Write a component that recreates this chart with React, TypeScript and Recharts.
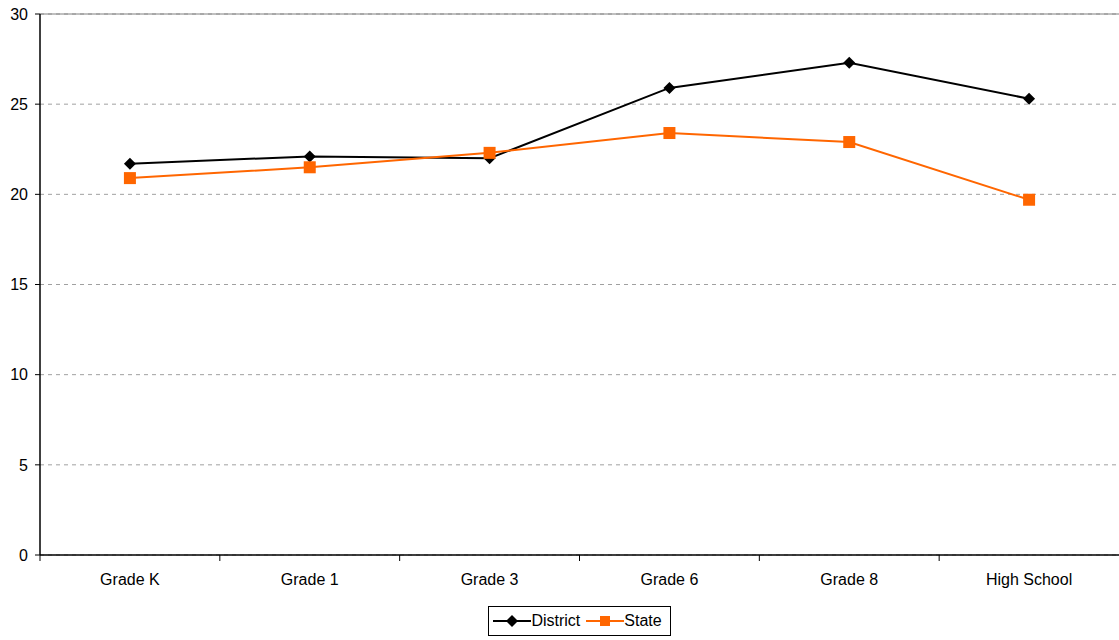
import React from "react";
import {
  LineChart,
  Line,
  XAxis,
  YAxis,
  CartesianGrid,
  ReferenceLine,
  Legend,
} from "recharts";

const categories = ["Grade K", "Grade 1", "Grade 3", "Grade 6", "Grade 8", "High School"];
const district = [21.7, 22.1, 22.0, 25.9, 27.3, 25.3];
const state = [20.9, 21.5, 22.3, 23.4, 22.9, 19.7];
const yTicks = [0, 5, 10, 15, 20, 25, 30];

const data = categories.map((name, i) => ({
  name,
  District: district[i],
  State: state[i],
}));

const WIDTH = 1119;
const HEIGHT = 640;
const LEFT = 40;
const HALF_STEP = (WIDTH - LEFT) / categories.length / 2;
const FONT = "'Liberation Sans', Arial, sans-serif";
const ORANGE = "#ff6600";

const Diamond = ({ cx, cy, fill }: any) => {
  if (cx == null || cy == null) return null;
  const r = 6;
  return (
    <polygon
      points={`${cx},${cy - r} ${cx + r},${cy} ${cx},${cy + r} ${cx - r},${cy}`}
      fill={fill}
    />
  );
};

const Square = ({ cx, cy, fill }: any) => {
  if (cx == null || cy == null) return null;
  return <rect x={cx - 6} y={cy - 6} width={12} height={12} fill={fill} />;
};

// category labels sit mid-band, tick marks fall on the band edges
const CategoryTick = ({ x, y, payload }: any) => (
  <g>
    <line x1={x - HALF_STEP} y1={y - 8} x2={x - HALF_STEP} y2={y - 2} stroke="#000" strokeWidth={1} />
    <text x={x} y={y + 22} textAnchor="middle" fontSize={16} fontFamily={FONT} fill="#000">
      {payload.value}
    </text>
  </g>
);

const LegendBox = () => (
  <div style={{ display: "flex", justifyContent: "center", paddingLeft: LEFT }}>
    <div
      style={{
        display: "flex",
        alignItems: "center",
        border: "1px solid #000",
        height: 28,
        padding: "0 8px 0 4px",
        fontFamily: FONT,
        fontSize: 16,
        background: "#fff",
      }}
    >
      <svg width={38} height={14}>
        <line x1={0} y1={7} x2={38} y2={7} stroke="#000" strokeWidth={2} />
        <polygon points="19,1 25,7 19,13 13,7" fill="#000" />
      </svg>
      <span style={{ marginRight: 6 }}>District</span>
      <svg width={38} height={14}>
        <line x1={0} y1={7} x2={38} y2={7} stroke={ORANGE} strokeWidth={2} />
        <rect x={14} y={2} width={10} height={10} fill={ORANGE} />
      </svg>
      <span>State</span>
    </div>
  </div>
);

export default function App() {
  return (
    <div style={{ position: "absolute", left: 0, top: 0, width: WIDTH, height: HEIGHT, background: "#fff" }}>
      <LineChart
        width={WIDTH}
        height={HEIGHT}
        data={data}
        margin={{ top: 14, right: 0, bottom: 4, left: 0 }}
      >
        <CartesianGrid vertical={false} stroke="#a0a0a0" strokeDasharray="4 4" />
        <ReferenceLine y={30} stroke="#808080" strokeWidth={1} />
        <XAxis
          dataKey="name"
          padding={{ left: HALF_STEP, right: HALF_STEP }}
          axisLine={{ stroke: "#000", strokeWidth: 1.5 }}
          tickLine={false}
          tick={<CategoryTick />}
          height={51}
          interval={0}
        />
        <YAxis
          domain={[0, 30]}
          ticks={yTicks}
          width={LEFT}
          axisLine={{ stroke: "#000", strokeWidth: 1.5 }}
          tickLine={{ stroke: "#000" }}
          tickSize={5}
          tickMargin={7}
          tick={{ fontSize: 16, fontFamily: FONT, fill: "#000" }}
        />
        <Legend verticalAlign="bottom" content={<LegendBox />} />
        <Line
          type="linear"
          dataKey="District"
          stroke="#000"
          strokeWidth={2}
          dot={<Diamond fill="#000" />}
          activeDot={false}
          isAnimationActive={false}
        />
        <Line
          type="linear"
          dataKey="State"
          stroke={ORANGE}
          strokeWidth={2}
          dot={<Square fill={ORANGE} />}
          activeDot={false}
          isAnimationActive={false}
        />
      </LineChart>
    </div>
  );
}
